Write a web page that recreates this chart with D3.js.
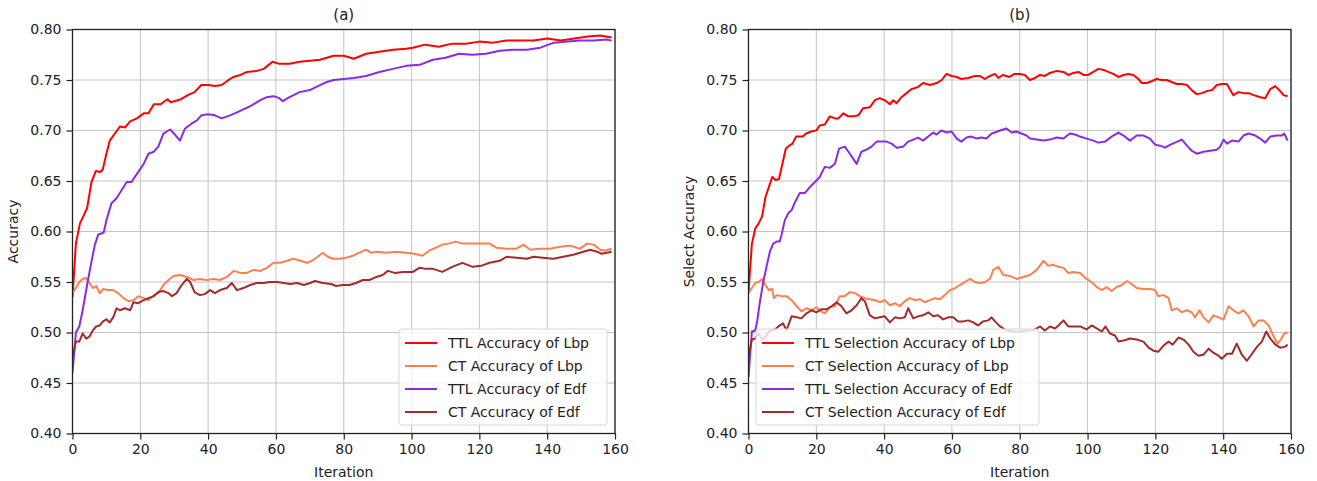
<!DOCTYPE html>
<html>
<head>
<meta charset="utf-8">
<script src="https://cdn.jsdelivr.net/npm/d3@7/dist/d3.min.js"></script>
<style>
  html, body { margin: 0; padding: 0; background: #fff; }
  svg { display: block; }
  text { font-family: "DejaVu Sans", sans-serif; fill: #222; }
</style>
</head>
<body>
<svg id="chart" width="1317" height="481"></svg>
<script>
// Iteration ticks and accuracy ticks shared by both panels
const xTicks = [0, 20, 40, 60, 80, 100, 120, 140, 160];
const yTicks = [0.40, 0.45, 0.50, 0.55, 0.60, 0.65, 0.70, 0.75, 0.80];

// Panel (a): [iteration, accuracy]
const ttlLbpA = [[0,0.535],[1,0.588],[2.2,0.608],[3.2,0.615],[4.3,0.623],[5.6,0.649],[6.9,0.660],[8.1,0.659],[8.9,0.661],[10,0.677],[11,0.690],[12.5,0.697],[14,0.704],[15.5,0.703],[17,0.709],[19,0.712],[21,0.717],[22.4,0.717],[24,0.726],[26,0.726],[28,0.731],[29,0.728],[32,0.731],[34,0.735],[36,0.738],[38,0.745],[40,0.745],[42,0.744],[44,0.745],[46,0.750],[47.5,0.753],[49.5,0.755],[51.5,0.758],[54.4,0.759],[56.4,0.761],[59,0.768],[61,0.766],[64,0.766],[67,0.768],[70,0.769],[73,0.770],[77,0.774],[80,0.774],[83,0.771],[86.6,0.776],[90.5,0.778],[94.5,0.780],[98.4,0.781],[100.4,0.782],[104,0.785],[108,0.783],[112,0.786],[116,0.786],[120,0.788],[124,0.787],[128,0.789],[132,0.789],[136,0.789],[140,0.791],[144,0.789],[148,0.791],[152,0.793],[155.6,0.794],[159,0.792]];
const ctLbpA = [[0,0.539],[1,0.544],[2,0.550],[3,0.553],[4,0.554],[5,0.549],[6,0.544],[7,0.546],[8,0.539],[9,0.543],[10.5,0.542],[12,0.542],[13.5,0.539],[15,0.534],[16.5,0.531],[18,0.532],[19.4,0.536],[21,0.534],[22.4,0.532],[24,0.537],[25.3,0.539],[26.8,0.547],[28.3,0.552],[29.8,0.556],[31.7,0.557],[33.7,0.555],[35.7,0.552],[37.6,0.553],[39.6,0.552],[41.6,0.553],[43.5,0.552],[45.5,0.555],[47.5,0.561],[49.5,0.559],[51.4,0.559],[53.4,0.562],[55.4,0.561],[57.3,0.564],[59.3,0.569],[61.3,0.569],[63.3,0.571],[65.2,0.573],[67.2,0.571],[69.2,0.569],[71.1,0.572],[72.3,0.575],[73.8,0.579],[75.3,0.575],[76.7,0.573],[78.7,0.573],[80.7,0.574],[82.7,0.576],[84.6,0.579],[86.6,0.582],[88,0.579],[90,0.580],[92.5,0.579],[95.5,0.580],[98.3,0.579],[100.8,0.578],[103.2,0.576],[105.2,0.581],[107.2,0.584],[109.1,0.587],[111,0.588],[113,0.590],[115,0.588],[117,0.588],[120,0.588],[123,0.588],[125,0.584],[128,0.583],[131,0.583],[133,0.587],[135,0.582],[137.7,0.583],[140.8,0.583],[143.8,0.585],[146.8,0.586],[149.7,0.583],[151.7,0.588],[153.7,0.587],[155.6,0.582],[157,0.581],[159,0.583]];
const ttlEdfA = [[0,0.460],[1,0.500],[2,0.506],[3,0.522],[4.3,0.547],[5.3,0.565],[6.6,0.587],[7.6,0.597],[8.5,0.598],[9.2,0.599],[10,0.611],[11.5,0.628],[13,0.633],[14.5,0.641],[16,0.649],[17.4,0.649],[19,0.657],[21,0.667],[22.4,0.677],[24,0.679],[25.3,0.684],[26.8,0.697],[28.8,0.701],[30.2,0.696],[31.7,0.690],[33.2,0.702],[35.2,0.707],[36.7,0.710],[38,0.715],[40,0.716],[42,0.715],[44,0.712],[46.5,0.715],[48.5,0.718],[50.4,0.721],[52.4,0.724],[55.4,0.730],[57.3,0.733],[59.3,0.734],[61,0.732],[62,0.729],[64,0.733],[67,0.738],[70,0.740],[73,0.745],[75,0.748],[77,0.750],[80,0.751],[83,0.752],[86.6,0.754],[90.5,0.758],[94.5,0.761],[98.4,0.764],[102.4,0.765],[106.3,0.770],[110,0.772],[114,0.776],[118,0.775],[122,0.776],[126,0.779],[130,0.780],[134,0.780],[138,0.782],[142,0.787],[146,0.788],[150,0.789],[153.7,0.789],[157.6,0.790],[159,0.789]];
const ctEdfA = [[0,0.475],[1,0.491],[2,0.491],[3,0.499],[4,0.494],[5,0.496],[6,0.502],[7,0.506],[8,0.507],[9,0.511],[10,0.513],[11,0.510],[12,0.515],[13,0.524],[14,0.522],[15.5,0.524],[17,0.522],[18,0.530],[19.4,0.529],[21,0.532],[22.4,0.534],[24,0.536],[25.3,0.540],[26.8,0.541],[28.3,0.539],[29.3,0.536],[30.7,0.539],[32.2,0.547],[33.7,0.553],[34.7,0.550],[36,0.540],[37.6,0.537],[39,0.538],[40.6,0.542],[42,0.539],[43.5,0.542],[45.5,0.544],[47,0.549],[48.5,0.542],[50.4,0.544],[52.4,0.547],[54.4,0.549],[56.4,0.549],[58.3,0.550],[60.3,0.550],[62.3,0.549],[64.2,0.548],[66.2,0.549],[68.2,0.547],[70.1,0.549],[71.5,0.551],[73.8,0.549],[76.3,0.548],[77.7,0.546],[79.7,0.547],[81.7,0.547],[83.6,0.549],[85.6,0.552],[87.6,0.552],[89.6,0.555],[91.5,0.557],[93,0.561],[95,0.559],[97.5,0.560],[100.4,0.560],[102.3,0.564],[104.3,0.563],[106.3,0.563],[109.1,0.560],[112,0.565],[115,0.569],[118,0.565],[120.5,0.566],[123,0.569],[126,0.571],[128,0.575],[131,0.574],[134,0.573],[136,0.575],[138.7,0.574],[141.8,0.573],[144.7,0.575],[147.7,0.577],[150.7,0.580],[152.7,0.582],[154.7,0.580],[156,0.578],[157.6,0.579],[159,0.580]];

// Panel (b): [iteration, selection accuracy]
const ttlLbpB = [[0,0.540],[1,0.588],[2,0.603],[3,0.608],[4,0.615],[5,0.634],[6,0.644],[7,0.654],[8,0.651],[9,0.652],[10,0.667],[11,0.682],[12,0.685],[13,0.687],[14,0.694],[15,0.694],[16,0.694],[17,0.697],[18.5,0.699],[20,0.700],[21,0.705],[22.5,0.706],[24,0.714],[25.5,0.712],[26.5,0.712],[28,0.717],[29.4,0.714],[31,0.714],[32.4,0.715],[33.8,0.722],[35.8,0.723],[37.3,0.730],[38.7,0.732],[40.2,0.730],[41.7,0.726],[42.7,0.730],[43.7,0.727],[45.1,0.733],[46.6,0.737],[48.1,0.741],[50,0.743],[51.5,0.747],[53.5,0.745],[55.5,0.747],[57,0.750],[58.4,0.756],[59.9,0.754],[61.4,0.753],[62.8,0.751],[64.8,0.752],[66.8,0.754],[68.2,0.754],[69.7,0.751],[71.2,0.754],[72.7,0.756],[73.7,0.752],[75,0.755],[77,0.753],[78.5,0.756],[80,0.756],[81.5,0.755],[83,0.750],[84.5,0.752],[86,0.755],[87.4,0.754],[88.9,0.757],[90.9,0.759],[92.9,0.758],[94.3,0.755],[95.8,0.757],[97.3,0.758],[98.8,0.755],[100.2,0.755],[101.7,0.758],[103.2,0.761],[104.7,0.760],[106.1,0.758],[107.6,0.756],[109.1,0.753],[110.6,0.755],[112,0.756],[113.5,0.755],[115,0.751],[116,0.747],[117.5,0.747],[119,0.749],[120.4,0.751],[121.9,0.750],[123.4,0.750],[124.8,0.748],[126.3,0.746],[127.8,0.746],[129.3,0.745],[130.7,0.740],[132.2,0.736],[133.7,0.737],[135.2,0.739],[136.7,0.740],[138.1,0.745],[139.6,0.746],[141.1,0.746],[142.1,0.740],[143,0.735],[144.5,0.738],[146,0.737],[147.5,0.737],[149,0.735],[151,0.733],[152.4,0.732],[153.9,0.741],[155.4,0.744],[156.8,0.739],[157.8,0.735],[159,0.734]];
const ctLbpB = [[0,0.539],[1,0.544],[2,0.549],[3,0.550],[4,0.553],[5,0.547],[6,0.542],[7,0.543],[7.5,0.534],[8.3,0.537],[9.7,0.536],[11.2,0.536],[12.7,0.532],[14.2,0.526],[15.6,0.521],[17.1,0.524],[18.6,0.522],[20,0.525],[21.5,0.521],[22.5,0.519],[24,0.525],[25.5,0.526],[26.9,0.536],[28.4,0.536],[29.9,0.540],[31.4,0.539],[32.8,0.536],[34.3,0.534],[35.8,0.533],[37.3,0.532],[38.7,0.530],[40.2,0.532],[41.7,0.527],[43.2,0.529],[44.6,0.526],[46.1,0.531],[47.6,0.534],[49.1,0.532],[50.5,0.533],[52,0.530],[53.5,0.532],[55,0.534],[56.4,0.533],[57.9,0.537],[59.4,0.542],[60.9,0.544],[62.3,0.547],[63.8,0.550],[65.3,0.553],[66.8,0.550],[68.2,0.549],[69.7,0.550],[71.2,0.553],[72.2,0.562],[73.7,0.565],[75.1,0.557],[77.1,0.556],[79,0.553],[81,0.555],[83,0.557],[85,0.562],[87,0.571],[88.4,0.566],[89.9,0.567],[91.4,0.565],[92.9,0.564],[94.3,0.559],[95.8,0.560],[97.8,0.559],[99.7,0.553],[101.2,0.550],[102.7,0.545],[104.2,0.542],[105.6,0.545],[107.1,0.541],[108.6,0.545],[110.1,0.547],[111.6,0.551],[113,0.548],[114.5,0.544],[116.5,0.543],[118.4,0.543],[119.9,0.542],[120.9,0.536],[122.4,0.537],[123.9,0.534],[124.8,0.522],[126.3,0.524],[127.8,0.520],[129.3,0.522],[130.7,0.520],[131.7,0.515],[133,0.522],[134.2,0.515],[135.7,0.510],[137.1,0.517],[138.6,0.515],[140.1,0.513],[141.6,0.526],[143,0.522],[144.5,0.519],[146,0.522],[147.5,0.516],[149,0.506],[150.4,0.512],[151.9,0.512],[153.4,0.507],[154.9,0.496],[156,0.489],[157,0.493],[158,0.499],[159,0.500]];
const ttlEdfB = [[0,0.456],[1,0.501],[2,0.502],[2.6,0.512],[3.3,0.529],[4.3,0.549],[5.3,0.565],[6.3,0.580],[7.3,0.588],[8.3,0.590],[9.2,0.590],[9.7,0.596],[10.7,0.611],[11.7,0.618],[12.7,0.621],[13.7,0.629],[15.1,0.638],[16.6,0.638],[18.1,0.644],[19.6,0.649],[21,0.654],[22.5,0.664],[24,0.663],[25.5,0.667],[26.7,0.682],[28.4,0.684],[29.9,0.677],[31.9,0.667],[33.3,0.679],[34.8,0.681],[36.3,0.684],[37.8,0.689],[39.2,0.689],[40.7,0.689],[42.2,0.687],[43.7,0.683],[45.6,0.684],[47.1,0.689],[48.6,0.691],[50,0.693],[51.5,0.690],[53,0.694],[54.5,0.698],[55.5,0.696],[56.9,0.700],[58.4,0.698],[59.9,0.699],[61.4,0.692],[62.8,0.689],[64.3,0.693],[65.8,0.694],[67.3,0.692],[68.7,0.693],[70.2,0.692],[71.7,0.697],[72.7,0.698],[74.2,0.700],[76.1,0.702],[77.6,0.698],[79,0.699],[80.5,0.697],[82,0.695],[83,0.692],[85,0.691],[87,0.690],[88.9,0.691],[90.9,0.693],[92.9,0.692],[94.8,0.697],[96.3,0.696],[97.8,0.694],[99.7,0.692],[101.7,0.690],[103.2,0.688],[105.2,0.689],[107.1,0.694],[109.1,0.698],[110.6,0.695],[112.5,0.690],[114.5,0.695],[116.5,0.695],[118.4,0.692],[119.9,0.686],[121.4,0.685],[122.9,0.683],[124.4,0.686],[125.8,0.688],[127.8,0.691],[129.3,0.685],[130.7,0.680],[132.2,0.677],[134.2,0.679],[136.2,0.680],[138.1,0.681],[139.1,0.684],[140.1,0.691],[141.1,0.687],[142.6,0.690],[144.5,0.689],[146,0.695],[147.5,0.697],[149.5,0.695],[150.9,0.692],[152.4,0.688],[153.9,0.694],[155.8,0.695],[157.3,0.695],[158,0.697],[159,0.690]];
const ctEdfB = [[0,0.476],[1,0.493],[2,0.494],[3,0.499],[4,0.493],[5,0.496],[6.3,0.502],[7.8,0.503],[8.8,0.506],[10.2,0.509],[11.2,0.502],[12.7,0.516],[14.2,0.515],[15.6,0.514],[17.1,0.519],[18.6,0.522],[20,0.520],[21.5,0.523],[23,0.523],[24.5,0.526],[26,0.530],[27.4,0.526],[28.9,0.519],[30.4,0.522],[31.9,0.527],[33.3,0.534],[34.3,0.531],[35.8,0.517],[37.3,0.514],[38.7,0.515],[40.2,0.516],[41.7,0.510],[43.2,0.515],[44.6,0.514],[46.1,0.515],[47.1,0.524],[48.6,0.514],[50,0.516],[51.5,0.517],[53,0.520],[54.5,0.516],[55.9,0.517],[57.4,0.513],[58.9,0.515],[60.4,0.515],[61.8,0.511],[63.3,0.511],[64.8,0.512],[66.3,0.510],[67.7,0.507],[69.2,0.511],[70.7,0.512],[71.7,0.515],[72.7,0.511],[74.2,0.506],[76.1,0.502],[78.1,0.501],[80,0.501],[82,0.502],[84,0.502],[86,0.506],[87.4,0.502],[88.9,0.506],[90.4,0.504],[91.4,0.507],[92.9,0.512],[94.3,0.506],[95.8,0.506],[97.8,0.506],[99.7,0.503],[101.2,0.507],[102.7,0.504],[104.2,0.501],[105.3,0.506],[106.6,0.499],[108.1,0.497],[109.1,0.491],[110.6,0.492],[112.5,0.494],[114.5,0.493],[116.5,0.491],[118,0.485],[119.4,0.482],[120.9,0.481],[122.4,0.487],[123.9,0.491],[125.1,0.488],[126.8,0.495],[128.3,0.493],[129.8,0.488],[131.2,0.481],[132.7,0.477],[134.2,0.478],[135.7,0.484],[137.1,0.480],[138.6,0.477],[139.6,0.474],[141.1,0.479],[142.6,0.479],[144,0.489],[145.5,0.478],[147,0.472],[148.5,0.479],[150,0.486],[151.4,0.491],[152.7,0.501],[153.9,0.494],[155.4,0.488],[156.8,0.485],[158.3,0.486],[159,0.488]];

const namesA = ["TTL Accuracy of Lbp", "CT Accuracy of Lbp", "TTL Accuracy of Edf", "CT Accuracy of Edf"];
const namesB = ["TTL Selection Accuracy of Lbp", "CT Selection Accuracy of Lbp", "TTL Selection Accuracy of Edf", "CT Selection Accuracy of Edf"];
const colors = ["#ff0000", "#ff7f50", "#8a2be2", "#a52a2a"];

const svg = d3.select("#chart");

function drawPanel(cfg) {
  const { left, right, top, bottom } = cfg;
  const x = d3.scaleLinear().domain([0, 160]).range([left, right]);
  const y = d3.scaleLinear().domain([0.40, 0.80]).range([bottom, top]);
  const g = svg.append("g");
  const clipId = "clip-" + cfg.id;
  svg.append("clipPath").attr("id", clipId)
    .append("rect").attr("x", left).attr("y", top)
    .attr("width", right - left).attr("height", bottom - top);

  // grid
  g.append("g").selectAll("line").data(xTicks).join("line")
    .attr("x1", d => x(d)).attr("x2", d => x(d))
    .attr("y1", top).attr("y2", bottom)
    .attr("stroke", "#c4c4c4").attr("stroke-width", 1);
  g.append("g").selectAll("line").data(yTicks).join("line")
    .attr("x1", left).attr("x2", right)
    .attr("y1", d => y(d)).attr("y2", d => y(d))
    .attr("stroke", "#c4c4c4").attr("stroke-width", 1);

  // series
  const line = d3.line().x(d => x(d[0])).y(d => y(d[1]));
  g.append("g").attr("clip-path", `url(#${clipId})`)
    .selectAll("path").data(cfg.series).join("path")
    .attr("d", d => line(d))
    .attr("fill", "none")
    .attr("stroke", (d, i) => colors[i])
    .attr("stroke-width", 2)
    .attr("stroke-linejoin", "round");

  // axes
  const xAxis = d3.axisBottom(x).tickValues(xTicks).tickFormat(d3.format("d")).tickSize(6).tickPadding(5);
  const yAxis = d3.axisLeft(y).tickValues(yTicks).tickFormat(d3.format(".2f")).tickSize(6).tickPadding(5);
  const gx = g.append("g").attr("transform", `translate(0,${bottom})`).call(xAxis);
  const gy = g.append("g").attr("transform", `translate(${left},0)`).call(yAxis);
  [gx, gy].forEach(a => {
    a.select(".domain").remove();
    a.selectAll("line").attr("stroke", "#222").attr("stroke-width", 1.2);
    a.selectAll("text").style("font-size", "14px").attr("fill", "#222")
      .style("font-family", '"DejaVu Sans", sans-serif');
  });

  // frame
  g.append("rect").attr("x", left).attr("y", top)
    .attr("width", right - left).attr("height", bottom - top)
    .attr("fill", "none").attr("stroke", "#222").attr("stroke-width", 1.3);

  // title and labels
  g.append("text").attr("x", (left + right) / 2).attr("y", 20)
    .attr("text-anchor", "middle").style("font-size", "15px").text(cfg.title);
  g.append("text").attr("x", (left + right) / 2).attr("y", 477)
    .attr("text-anchor", "middle").style("font-size", "14px").text("Iteration");
  g.append("text")
    .attr("transform", `translate(${cfg.ylabelX},${(top + bottom) / 2}) rotate(-90)`)
    .attr("text-anchor", "middle").style("font-size", "14px").text(cfg.ylabel);

  // legend
  const lg = g.append("g");
  const L = cfg.legend;
  lg.append("rect").attr("x", L.x).attr("y", L.y).attr("width", L.w).attr("height", L.h)
    .attr("rx", 3).attr("fill", "#fff").attr("fill-opacity", 0.8)
    .attr("stroke", "#d6d6d6").attr("stroke-width", 1);
  cfg.names.forEach((name, i) => {
    const cy = L.y + 14 + i * 23;
    lg.append("line").attr("x1", L.x + 6).attr("x2", L.x + 38)
      .attr("y1", cy).attr("y2", cy)
      .attr("stroke", colors[i]).attr("stroke-width", 2);
    lg.append("text").attr("x", L.x + 49).attr("y", cy + 5)
      .style("font-size", "14px").text(name);
  });
}

drawPanel({
  id: "a", left: 72.5, right: 615, top: 29.5, bottom: 433.5,
  title: "(a)", ylabel: "Accuracy", ylabelX: 18,
  series: [ttlLbpA, ctLbpA, ttlEdfA, ctEdfA], names: namesA,
  legend: { x: 399, y: 329, w: 208, h: 96 }
});
drawPanel({
  id: "b", left: 748.5, right: 1291, top: 29.5, bottom: 433.5,
  title: "(b)", ylabel: "Select Accuracy", ylabelX: 694,
  series: [ttlLbpB, ctLbpB, ttlEdfB, ctEdfB], names: namesB,
  legend: { x: 756, y: 329, w: 283, h: 96 }
});
</script>
</body>
</html>
